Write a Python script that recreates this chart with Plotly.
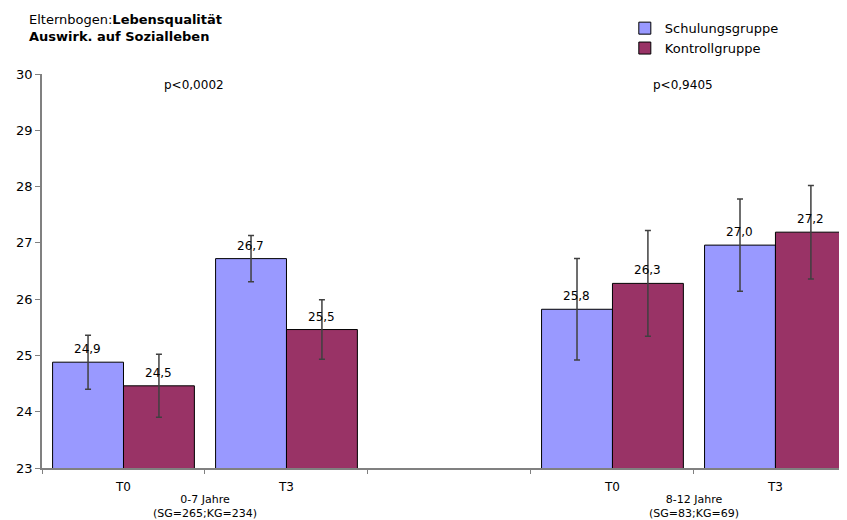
import plotly.graph_objects as go

# ---- data ----
positions = [0, 1, 3, 4]                    # T0, T3 (0-7 J.), T0, T3 (8-12 J.)
tick_labels = ["T0", "T3", "T0", "T3"]
schulung = [24.88, 26.72, 25.82, 26.96]
schulung_err = [0.48, 0.41, 0.90, 0.82]
kontroll = [24.46, 25.46, 26.28, 27.19]
kontroll_err = [0.56, 0.53, 0.94, 0.83]
group_labels = ["0-7 Jahre<br>(SG=265;KG=234)", "8-12 Jahre<br>(SG=83;KG=69)"]
group_pos = [0.5, 3.5]
p_values = ["p<0,0002", "p<0,9405"]

FONT = "Liberation Sans, Arial, sans-serif"
WIDE = "DejaVu Sans, Verdana, sans-serif"

fig = go.Figure()
series = [
    ("Schulungsgruppe", schulung, schulung_err, "#9999FF", -1),
    ("Kontrollgruppe", kontroll, kontroll_err, "#993366", 1),
]
for name, vals, errs, col, side in series:
    fig.add_trace(go.Bar(
        x=positions, y=vals, name=name,
        marker=dict(color=col, line=dict(color="black", width=1)),
        error_y=dict(type="data", array=errs, color="#404040", thickness=1.5, width=3),
    ))
    for xp, v in zip(positions, vals):
        fig.add_annotation(x=xp, y=v, xref="x", yref="y",
                           text=f"{v:.1f}".replace(".", ","), showarrow=False,
                           xshift=side * 35.5, yshift=13,
                           font=dict(family=WIDE, size=12, color="black"))

for gx, gl in zip(group_pos, group_labels):
    fig.add_annotation(x=gx, y=-0.058, xref="x", yref="paper", text=gl, showarrow=False,
                       yanchor="top", font=dict(family=WIDE, size=11, color="black"),
                       align="center")
for gx, pv in zip(group_pos, p_values):
    fig.add_annotation(x=gx, y=29.8, xref="x", yref="y", text=pv, showarrow=False,
                       xshift=-11, font=dict(family=WIDE, size=12, color="black"))

fig.add_annotation(
    text="Elternbogen:<b>Lebensqualität</b><br><b>Auswirk. auf Sozialleben</b>",
    xref="paper", yref="paper", x=-0.0186, y=1.1155, xanchor="left", yanchor="middle",
    align="left", showarrow=False, font=dict(family=WIDE, size=13, color="black"))

fig.update_layout(
    width=847, height=520,
    margin=dict(l=34, r=8, t=66, b=60, autoexpand=False),
    paper_bgcolor="white", plot_bgcolor="white",
    barmode="group", bargap=0.13, bargroupgap=0,
    showlegend=True,
    legend=dict(x=0.724, y=1.1543, xanchor="left", yanchor="top",
                font=dict(family=WIDE, size=13, color="black"),
                bgcolor="rgba(0,0,0,0)", itemwidth=30, tracegroupgap=0),
    font=dict(family=FONT, size=12, color="black"),
)
fig.update_xaxes(
    range=[-0.5, 4.439], tickvals=positions, ticktext=tick_labels, ticks="",
    showline=True, linecolor="#808080", linewidth=1.5, showgrid=False, zeroline=False,
    tickfont=dict(family=WIDE, size=12, color="black"), automargin=False,
    ticklabelstandoff=7,
    minor=dict(tick0=0.5, dtick=1, ticks="outside", ticklen=4, tickcolor="#808080", showgrid=False),
)
fig.update_yaxes(
    range=[23, 30], dtick=1, ticks="outside", ticklen=5, tickcolor="#808080",
    showline=True, linecolor="#808080", linewidth=1.5, showgrid=False, zeroline=False,
    tickfont=dict(family=WIDE, size=13, color="black"), automargin=False,
)

fig.write_html("out.html")
